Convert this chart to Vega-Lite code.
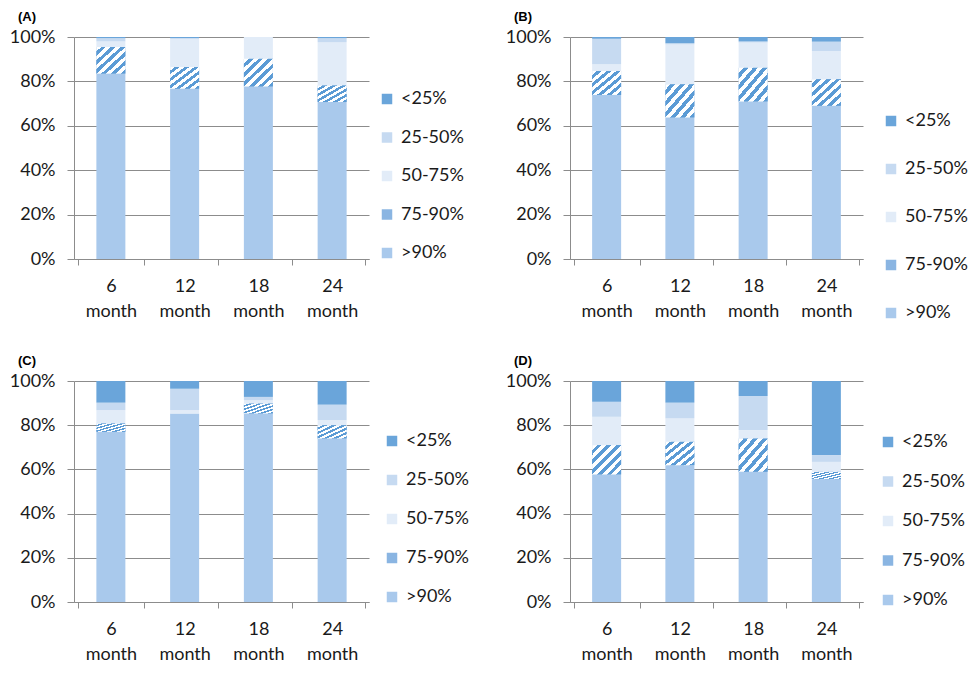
{
  "$schema": "https://vega.github.io/schema/vega-lite/v6.json",
  "background": "white",
  "padding": {"left": 9, "top": 11, "right": 5, "bottom": 5},
  "bounds": "flush",
  "columns": 2,
  "spacing": {"row": 122, "column": 201},
  "data": {
    "values": [
      {"panel": "A", "time": "6 month", "cat": ">90%", "k": 1, "value": 83.5},
      {"panel": "A", "time": "6 month", "cat": "75-90%", "k": 2, "value": 12},
      {"panel": "A", "time": "6 month", "cat": "50-75%", "k": 3, "value": 2.5},
      {"panel": "A", "time": "6 month", "cat": "25-50%", "k": 4, "value": 1.5},
      {"panel": "A", "time": "6 month", "cat": "<25%", "k": 5, "value": 0.5},
      {"panel": "A", "time": "12 month", "cat": ">90%", "k": 1, "value": 76.7},
      {"panel": "A", "time": "12 month", "cat": "75-90%", "k": 2, "value": 9.8},
      {"panel": "A", "time": "12 month", "cat": "50-75%", "k": 3, "value": 12.7},
      {"panel": "A", "time": "12 month", "cat": "25-50%", "k": 4, "value": 0.3},
      {"panel": "A", "time": "12 month", "cat": "<25%", "k": 5, "value": 0.5},
      {"panel": "A", "time": "18 month", "cat": ">90%", "k": 1, "value": 77.7},
      {"panel": "A", "time": "18 month", "cat": "75-90%", "k": 2, "value": 12.5},
      {"panel": "A", "time": "18 month", "cat": "50-75%", "k": 3, "value": 9.8},
      {"panel": "A", "time": "18 month", "cat": "25-50%", "k": 4, "value": 0},
      {"panel": "A", "time": "18 month", "cat": "<25%", "k": 5, "value": 0},
      {"panel": "A", "time": "24 month", "cat": ">90%", "k": 1, "value": 70.7},
      {"panel": "A", "time": "24 month", "cat": "75-90%", "k": 2, "value": 7.5},
      {"panel": "A", "time": "24 month", "cat": "50-75%", "k": 3, "value": 19.5},
      {"panel": "A", "time": "24 month", "cat": "25-50%", "k": 4, "value": 1.8},
      {"panel": "A", "time": "24 month", "cat": "<25%", "k": 5, "value": 0.5},

      {"panel": "B", "time": "6 month", "cat": ">90%", "k": 1, "value": 73.9},
      {"panel": "B", "time": "6 month", "cat": "75-90%", "k": 2, "value": 10.8},
      {"panel": "B", "time": "6 month", "cat": "50-75%", "k": 3, "value": 3},
      {"panel": "B", "time": "6 month", "cat": "25-50%", "k": 4, "value": 11.5},
      {"panel": "B", "time": "6 month", "cat": "<25%", "k": 5, "value": 0.8},
      {"panel": "B", "time": "12 month", "cat": ">90%", "k": 1, "value": 63.7},
      {"panel": "B", "time": "12 month", "cat": "75-90%", "k": 2, "value": 15},
      {"panel": "B", "time": "12 month", "cat": "50-75%", "k": 3, "value": 18},
      {"panel": "B", "time": "12 month", "cat": "25-50%", "k": 4, "value": 0.5},
      {"panel": "B", "time": "12 month", "cat": "<25%", "k": 5, "value": 2.8},
      {"panel": "B", "time": "18 month", "cat": ">90%", "k": 1, "value": 70.9},
      {"panel": "B", "time": "18 month", "cat": "75-90%", "k": 2, "value": 15.3},
      {"panel": "B", "time": "18 month", "cat": "50-75%", "k": 3, "value": 11.3},
      {"panel": "B", "time": "18 month", "cat": "25-50%", "k": 4, "value": 0.5},
      {"panel": "B", "time": "18 month", "cat": "<25%", "k": 5, "value": 2},
      {"panel": "B", "time": "24 month", "cat": ">90%", "k": 1, "value": 69},
      {"panel": "B", "time": "24 month", "cat": "75-90%", "k": 2, "value": 12},
      {"panel": "B", "time": "24 month", "cat": "50-75%", "k": 3, "value": 12.7},
      {"panel": "B", "time": "24 month", "cat": "25-50%", "k": 4, "value": 4.2},
      {"panel": "B", "time": "24 month", "cat": "<25%", "k": 5, "value": 2.1},

      {"panel": "C", "time": "6 month", "cat": ">90%", "k": 1, "value": 77},
      {"panel": "C", "time": "6 month", "cat": "75-90%", "k": 2, "value": 3.8},
      {"panel": "C", "time": "6 month", "cat": "50-75%", "k": 3, "value": 6},
      {"panel": "C", "time": "6 month", "cat": "25-50%", "k": 4, "value": 3.4},
      {"panel": "C", "time": "6 month", "cat": "<25%", "k": 5, "value": 9.8},
      {"panel": "C", "time": "12 month", "cat": ">90%", "k": 1, "value": 85.3},
      {"panel": "C", "time": "12 month", "cat": "75-90%", "k": 2, "value": 0},
      {"panel": "C", "time": "12 month", "cat": "50-75%", "k": 3, "value": 1.5},
      {"panel": "C", "time": "12 month", "cat": "25-50%", "k": 4, "value": 9.7},
      {"panel": "C", "time": "12 month", "cat": "<25%", "k": 5, "value": 3.5},
      {"panel": "C", "time": "18 month", "cat": ">90%", "k": 1, "value": 85.3},
      {"panel": "C", "time": "18 month", "cat": "75-90%", "k": 2, "value": 4.5},
      {"panel": "C", "time": "18 month", "cat": "50-75%", "k": 3, "value": 1.5},
      {"panel": "C", "time": "18 month", "cat": "25-50%", "k": 4, "value": 1.5},
      {"panel": "C", "time": "18 month", "cat": "<25%", "k": 5, "value": 7.2},
      {"panel": "C", "time": "24 month", "cat": ">90%", "k": 1, "value": 74},
      {"panel": "C", "time": "24 month", "cat": "75-90%", "k": 2, "value": 6},
      {"panel": "C", "time": "24 month", "cat": "50-75%", "k": 3, "value": 2.3},
      {"panel": "C", "time": "24 month", "cat": "25-50%", "k": 4, "value": 7},
      {"panel": "C", "time": "24 month", "cat": "<25%", "k": 5, "value": 10.7},

      {"panel": "D", "time": "6 month", "cat": ">90%", "k": 1, "value": 57.7},
      {"panel": "D", "time": "6 month", "cat": "75-90%", "k": 2, "value": 13.3},
      {"panel": "D", "time": "6 month", "cat": "50-75%", "k": 3, "value": 12.8},
      {"panel": "D", "time": "6 month", "cat": "25-50%", "k": 4, "value": 6.8},
      {"panel": "D", "time": "6 month", "cat": "<25%", "k": 5, "value": 9.4},
      {"panel": "D", "time": "12 month", "cat": ">90%", "k": 1, "value": 61.9},
      {"panel": "D", "time": "12 month", "cat": "75-90%", "k": 2, "value": 10.6},
      {"panel": "D", "time": "12 month", "cat": "50-75%", "k": 3, "value": 10.6},
      {"panel": "D", "time": "12 month", "cat": "25-50%", "k": 4, "value": 7.1},
      {"panel": "D", "time": "12 month", "cat": "<25%", "k": 5, "value": 9.8},
      {"panel": "D", "time": "18 month", "cat": ">90%", "k": 1, "value": 58.9},
      {"panel": "D", "time": "18 month", "cat": "75-90%", "k": 2, "value": 15.1},
      {"panel": "D", "time": "18 month", "cat": "50-75%", "k": 3, "value": 3.8},
      {"panel": "D", "time": "18 month", "cat": "25-50%", "k": 4, "value": 15.4},
      {"panel": "D", "time": "18 month", "cat": "<25%", "k": 5, "value": 6.8},
      {"panel": "D", "time": "24 month", "cat": ">90%", "k": 1, "value": 55.6},
      {"panel": "D", "time": "24 month", "cat": "75-90%", "k": 2, "value": 3.3},
      {"panel": "D", "time": "24 month", "cat": "50-75%", "k": 3, "value": 4.5},
      {"panel": "D", "time": "24 month", "cat": "25-50%", "k": 4, "value": 3.1},
      {"panel": "D", "time": "24 month", "cat": "<25%", "k": 5, "value": 33.5}
    ]
  },
  "concat": [
    {
      "title": {"text": "(A)", "anchor": "start", "frame": "group", "dx": -56, "offset": 4},
      "width": 295, "height": 222,
      "transform": [{"filter": "datum.panel === 'A'"}],
      "encoding": {
        "x": {"field": "time", "type": "nominal", "sort": ["6 month", "12 month", "18 month", "24 month"], "title": null},
        "y": {"field": "value", "type": "quantitative", "stack": "zero", "scale": {"domain": [0, 100]}, "title": null},
        "detail": {"field": "cat"},
        "order": {"field": "k", "type": "quantitative"}
      },
      "layer": [
        {"mark": {"type": "bar", "size": 29},
         "encoding": {"color": {"field": "cat", "type": "nominal", "scale": {"domain": ["<25%", "25-50%", "50-75%", "75-90%", ">90%"]}, "legend": {"legendX": 304, "legendY": 53, "rowPadding": 20.5}}}},
        {"mark": {"type": "bar", "size": 29},
         "encoding": {"color": {"condition": {"test": "datum.cat === '75-90%'", "value": {"gradient": "linear", "x1": 0, "y1": 0, "x2": 1, "y2": 1, "stops": [
           {"offset": 0, "color": "#ffffff"}, {"offset": 0.0833, "color": "#ffffff"}, {"offset": 0.0833, "color": "#5b9bd5"}, {"offset": 0.1667, "color": "#5b9bd5"},
           {"offset": 0.1667, "color": "#ffffff"}, {"offset": 0.25, "color": "#ffffff"}, {"offset": 0.25, "color": "#5b9bd5"}, {"offset": 0.3333, "color": "#5b9bd5"},
           {"offset": 0.3333, "color": "#ffffff"}, {"offset": 0.4167, "color": "#ffffff"}, {"offset": 0.4167, "color": "#5b9bd5"}, {"offset": 0.5, "color": "#5b9bd5"},
           {"offset": 0.5, "color": "#ffffff"}, {"offset": 0.5833, "color": "#ffffff"}, {"offset": 0.5833, "color": "#5b9bd5"}, {"offset": 0.6667, "color": "#5b9bd5"},
           {"offset": 0.6667, "color": "#ffffff"}, {"offset": 0.75, "color": "#ffffff"}, {"offset": 0.75, "color": "#5b9bd5"}, {"offset": 0.8333, "color": "#5b9bd5"},
           {"offset": 0.8333, "color": "#ffffff"}, {"offset": 0.9167, "color": "#ffffff"}, {"offset": 0.9167, "color": "#5b9bd5"}, {"offset": 1, "color": "#5b9bd5"}]}}, "value": "transparent"}}}
      ]
    },
    {
      "title": {"text": "(B)", "anchor": "start", "frame": "group", "dx": -56, "offset": 4},
      "width": 293, "height": 222,
      "transform": [{"filter": "datum.panel === 'B'"}],
      "encoding": {
        "x": {"field": "time", "type": "nominal", "sort": ["6 month", "12 month", "18 month", "24 month"], "title": null},
        "y": {"field": "value", "type": "quantitative", "stack": "zero", "scale": {"domain": [0, 100]}, "title": null},
        "detail": {"field": "cat"},
        "order": {"field": "k", "type": "quantitative"}
      },
      "layer": [
        {"mark": {"type": "bar", "size": 29},
         "encoding": {"color": {"field": "cat", "type": "nominal", "scale": {"domain": ["<25%", "25-50%", "50-75%", "75-90%", ">90%"]}, "legend": {"legendX": 312, "legendY": 75, "rowPadding": 30}}}},
        {"mark": {"type": "bar", "size": 29},
         "encoding": {"color": {"condition": {"test": "datum.cat === '75-90%'", "value": {"gradient": "linear", "x1": 0, "y1": 0, "x2": 1, "y2": 1, "stops": [
           {"offset": 0, "color": "#ffffff"}, {"offset": 0.0833, "color": "#ffffff"}, {"offset": 0.0833, "color": "#5b9bd5"}, {"offset": 0.1667, "color": "#5b9bd5"},
           {"offset": 0.1667, "color": "#ffffff"}, {"offset": 0.25, "color": "#ffffff"}, {"offset": 0.25, "color": "#5b9bd5"}, {"offset": 0.3333, "color": "#5b9bd5"},
           {"offset": 0.3333, "color": "#ffffff"}, {"offset": 0.4167, "color": "#ffffff"}, {"offset": 0.4167, "color": "#5b9bd5"}, {"offset": 0.5, "color": "#5b9bd5"},
           {"offset": 0.5, "color": "#ffffff"}, {"offset": 0.5833, "color": "#ffffff"}, {"offset": 0.5833, "color": "#5b9bd5"}, {"offset": 0.6667, "color": "#5b9bd5"},
           {"offset": 0.6667, "color": "#ffffff"}, {"offset": 0.75, "color": "#ffffff"}, {"offset": 0.75, "color": "#5b9bd5"}, {"offset": 0.8333, "color": "#5b9bd5"},
           {"offset": 0.8333, "color": "#ffffff"}, {"offset": 0.9167, "color": "#ffffff"}, {"offset": 0.9167, "color": "#5b9bd5"}, {"offset": 1, "color": "#5b9bd5"}]}}, "value": "transparent"}}}
      ]
    },
    {
      "title": {"text": "(C)", "anchor": "start", "frame": "group", "dx": -56, "offset": 4},
      "width": 295, "height": 221,
      "transform": [{"filter": "datum.panel === 'C'"}],
      "encoding": {
        "x": {"field": "time", "type": "nominal", "sort": ["6 month", "12 month", "18 month", "24 month"], "title": null},
        "y": {"field": "value", "type": "quantitative", "stack": "zero", "scale": {"domain": [0, 100]}, "title": null},
        "detail": {"field": "cat"},
        "order": {"field": "k", "type": "quantitative"}
      },
      "layer": [
        {"mark": {"type": "bar", "size": 29},
         "encoding": {"color": {"field": "cat", "type": "nominal", "scale": {"domain": ["<25%", "25-50%", "50-75%", "75-90%", ">90%"]}, "legend": {"legendX": 309, "legendY": 51, "rowPadding": 21}}}},
        {"mark": {"type": "bar", "size": 29},
         "encoding": {"color": {"condition": {"test": "datum.cat === '75-90%'", "value": {"gradient": "linear", "x1": 0, "y1": 0, "x2": 1, "y2": 1, "stops": [
           {"offset": 0, "color": "#ffffff"}, {"offset": 0.0833, "color": "#ffffff"}, {"offset": 0.0833, "color": "#5b9bd5"}, {"offset": 0.1667, "color": "#5b9bd5"},
           {"offset": 0.1667, "color": "#ffffff"}, {"offset": 0.25, "color": "#ffffff"}, {"offset": 0.25, "color": "#5b9bd5"}, {"offset": 0.3333, "color": "#5b9bd5"},
           {"offset": 0.3333, "color": "#ffffff"}, {"offset": 0.4167, "color": "#ffffff"}, {"offset": 0.4167, "color": "#5b9bd5"}, {"offset": 0.5, "color": "#5b9bd5"},
           {"offset": 0.5, "color": "#ffffff"}, {"offset": 0.5833, "color": "#ffffff"}, {"offset": 0.5833, "color": "#5b9bd5"}, {"offset": 0.6667, "color": "#5b9bd5"},
           {"offset": 0.6667, "color": "#ffffff"}, {"offset": 0.75, "color": "#ffffff"}, {"offset": 0.75, "color": "#5b9bd5"}, {"offset": 0.8333, "color": "#5b9bd5"},
           {"offset": 0.8333, "color": "#ffffff"}, {"offset": 0.9167, "color": "#ffffff"}, {"offset": 0.9167, "color": "#5b9bd5"}, {"offset": 1, "color": "#5b9bd5"}]}}, "value": "transparent"}}}
      ]
    },
    {
      "title": {"text": "(D)", "anchor": "start", "frame": "group", "dx": -56, "offset": 4},
      "width": 293, "height": 221,
      "transform": [{"filter": "datum.panel === 'D'"}],
      "encoding": {
        "x": {"field": "time", "type": "nominal", "sort": ["6 month", "12 month", "18 month", "24 month"], "title": null},
        "y": {"field": "value", "type": "quantitative", "stack": "zero", "scale": {"domain": [0, 100]}, "title": null},
        "detail": {"field": "cat"},
        "order": {"field": "k", "type": "quantitative"}
      },
      "layer": [
        {"mark": {"type": "bar", "size": 29},
         "encoding": {"color": {"field": "cat", "type": "nominal", "scale": {"domain": ["<25%", "25-50%", "50-75%", "75-90%", ">90%"]}, "legend": {"legendX": 309, "legendY": 52, "rowPadding": 21.5}}}},
        {"mark": {"type": "bar", "size": 29},
         "encoding": {"color": {"condition": {"test": "datum.cat === '75-90%'", "value": {"gradient": "linear", "x1": 0, "y1": 0, "x2": 1, "y2": 1, "stops": [
           {"offset": 0, "color": "#ffffff"}, {"offset": 0.0833, "color": "#ffffff"}, {"offset": 0.0833, "color": "#5b9bd5"}, {"offset": 0.1667, "color": "#5b9bd5"},
           {"offset": 0.1667, "color": "#ffffff"}, {"offset": 0.25, "color": "#ffffff"}, {"offset": 0.25, "color": "#5b9bd5"}, {"offset": 0.3333, "color": "#5b9bd5"},
           {"offset": 0.3333, "color": "#ffffff"}, {"offset": 0.4167, "color": "#ffffff"}, {"offset": 0.4167, "color": "#5b9bd5"}, {"offset": 0.5, "color": "#5b9bd5"},
           {"offset": 0.5, "color": "#ffffff"}, {"offset": 0.5833, "color": "#ffffff"}, {"offset": 0.5833, "color": "#5b9bd5"}, {"offset": 0.6667, "color": "#5b9bd5"},
           {"offset": 0.6667, "color": "#ffffff"}, {"offset": 0.75, "color": "#ffffff"}, {"offset": 0.75, "color": "#5b9bd5"}, {"offset": 0.8333, "color": "#5b9bd5"},
           {"offset": 0.8333, "color": "#ffffff"}, {"offset": 0.9167, "color": "#ffffff"}, {"offset": 0.9167, "color": "#5b9bd5"}, {"offset": 1, "color": "#5b9bd5"}]}}, "value": "transparent"}}}
      ]
    }
  ],
  "resolve": {"scale": {"color": "shared"}, "legend": {"color": "independent"}},
  "config": {
    "view": {"stroke": null},
    "range": {"category": ["#6aa5da", "#c6daf1", "#e2ecf8", "#8ab5e2", "#a9c9ec"]},
    "title": {"font": "Liberation Sans", "fontSize": 13, "fontWeight": "bold", "color": "#000000"},
    "axisX": {
      "labelFont": "Lato", "labelFontSize": 18, "labelColor": "#1a1a1a", "labelAngle": 0,
      "labelExpr": "split(datum.label, ' ')", "labelLineHeight": 25, "labelPadding": 12,
      "tickBand": "extent", "tickSize": 6, "tickColor": "#8c8c8c", "domainColor": "#8c8c8c", "grid": false
    },
    "axisY": {
      "labelFont": "Lato", "labelFontSize": 18, "labelColor": "#1a1a1a",
      "values": [0, 20, 40, 60, 80, 100], "labelExpr": "datum.value + '%'",
      "tickSize": 7, "tickColor": "#8c8c8c", "domainColor": "#8c8c8c", "gridColor": "#8c8c8c", "labelPadding": 12
    },
    "legend": {
      "orient": "none", "title": null, "symbolType": "square", "symbolSize": 110, "symbolStrokeWidth": 0,
      "labelFont": "Lato", "labelFontSize": 18, "labelColor": "#1a1a1a", "symbolOffset": 0, "labelOffset": 5
    },
    "bar": {"stroke": null}
  }
}
